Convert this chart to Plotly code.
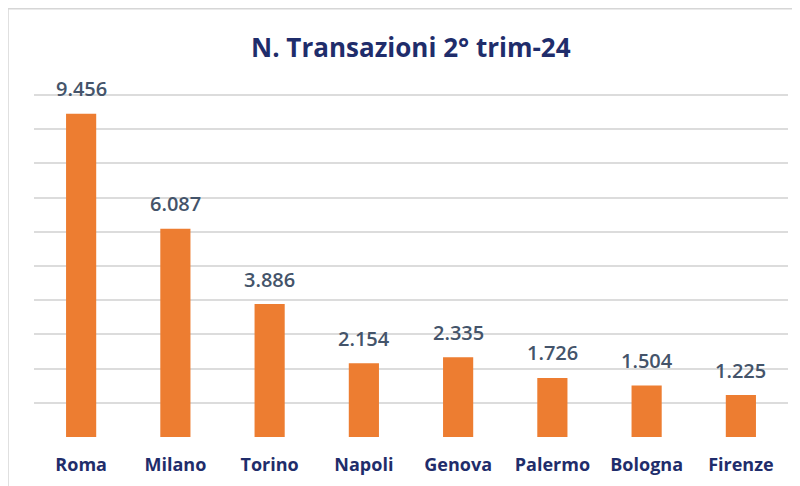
import plotly.graph_objects as go

# dati
citta = ["Roma", "Milano", "Torino", "Napoli", "Genova", "Palermo", "Bologna", "Firenze"]
transazioni = [9456, 6087, 3886, 2154, 2335, 1726, 1504, 1225]

titolo = "N. Transazioni 2° trim-24"
font = "Open Sans, Lato, sans-serif"

fig = go.Figure()

fig.add_trace(go.Bar(
    x=citta,
    y=transazioni,
    marker=dict(color="#ED7D31", line=dict(width=0)),
    hoverinfo="x+y",
))

# etichette dati sopra le barre (separatore migliaia con punto)
for c, v in zip(citta, transazioni):
    fig.add_annotation(
        x=c, y=v, xref="x", yref="y",
        text=f"{v:,}".replace(",", "."),
        showarrow=False, yanchor="middle", yshift=25,
        font=dict(family=font, size=20, color="#44546A", weight=600),
    )

# cornice del grafico (bordo grigio chiaro)
fig.add_shape(
    type="rect", xref="paper", yref="paper",
    x0=-0.0345, x1=1.2, y0=-0.3, y1=1.2485,
    line=dict(color="#D6D6D6", width=1.5),
    fillcolor="rgba(0,0,0,0)",
    layer="below",
)

fig.update_layout(
    width=800, height=486,
    title=dict(
        text="<b>" + titolo + "</b>",
        x=0.5035, xanchor="center", y=0.918, yanchor="middle",
        font=dict(family=font, size=26, color="#1F2D6B"),
    ),
    showlegend=False,
    bargap=0.68,
    plot_bgcolor="white",
    paper_bgcolor="white",
    margin=dict(l=26, r=20, t=86, b=57),
    xaxis=dict(
        showgrid=False, zeroline=False, showline=False,
        ticks="", ticklabelstandoff=15,
        tickfont=dict(family=font, size=18, color="#1F2D6B", weight="bold"),
    ),
    yaxis=dict(
        range=[0, 10030], tickvals=list(range(0, 10001, 1000)),
        showgrid=True, gridcolor="#DCDCDC", gridwidth=1.5,
        zeroline=False, showticklabels=False, ticks="",
    ),
)

fig.write_html("out.html")
